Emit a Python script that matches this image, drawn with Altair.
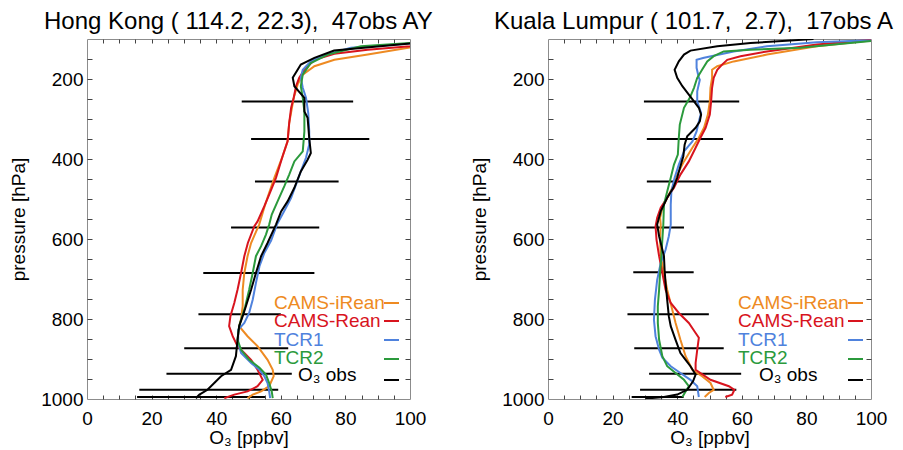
import altair as alt
import pandas as pd

FONT = "Liberation Sans"
W, H = 323, 360
TICK = "#444444"
NB = "\u00a0"

MODELS = ["CAMS-iRean", "CAMS-Rean", "TCR1", "TCR2", "O₃ obs"]
COLORS = ["#EE8A22", "#D8141E", "#4F82DD", "#2B9A3C", "#000000"]

# ---------------- Hong Kong ----------------
hk_title = "Hong Kong ( 114.2, 22.3)," + NB + " 47obs AY"

hk_irean_p = [100, 121, 139, 152, 168, 189, 214, 247, 310, 356, 392, 447, 489, 518, 564, 610, 643, 685, 727, 768, 800, 818, 843, 868, 902, 927, 943, 968, 981, 989, 998]
hk_irean_v = [108, 100, 86.9, 76.6, 70.4, 66.8, 65.2, 64.0, 62.6, 62.1, 60.6, 58.0, 56.2, 55.0, 53.3, 50.8, 49.7, 48.7, 48.2, 48.2, 47.7, 47.1, 49.7, 52.8, 55.9, 57.5, 57.8, 56.4, 53.9, 51.3, 49.7]

hk_rean_p = [100, 118, 127, 137, 152, 177, 197, 218, 247, 272, 310, 356, 392, 447, 489, 518, 556, 568, 610, 643, 685, 727, 760, 793, 818, 843, 868, 885, 902, 927, 952, 968, 981, 989, 998]
hk_rean_v = [112, 100, 86.9, 76.6, 70.4, 67.3, 65.7, 64.7, 64.0, 63.2, 62.6, 62.1, 60.6, 58.5, 56.4, 54.9, 52.8, 51.8, 49.8, 48.7, 47.7, 46.6, 45.6, 44.4, 44.0, 45.1, 46.6, 48.7, 50.8, 52.8, 54.4, 52.8, 49.7, 45.6, 42.5]

hk_tcr1_p = [100, 111, 122, 143, 156, 177, 197, 222, 247, 285, 331, 364, 397, 431, 464, 497, 522, 564, 604, 635, 668, 710, 752, 785, 810, 827, 860, 885, 910, 927, 943, 960, 981, 998]
hk_tcr1_v = [120, 100, 81.7, 72.4, 69.3, 66.8, 66.2, 66.8, 67.8, 68.5, 68.8, 68.8, 67.8, 66.2, 64.7, 63.2, 61.6, 58.8, 57.0, 54.9, 53.4, 52.3, 51.3, 50.2, 48.7, 46.8, 46.8, 47.7, 50.8, 53.4, 54.9, 55.9, 56.4, 56.7]

hk_tcr2_p = [100, 110, 118, 139, 160, 189, 218, 247, 281, 331, 381, 406, 439, 468, 506, 539, 564, 589, 618, 643, 685, 727, 768, 797, 818, 852, 877, 902, 922, 939, 960, 981, 998]
hk_tcr2_v = [118, 100, 84.8, 74.5, 69.3, 66.8, 66.2, 66.8, 67.3, 67.3, 66.8, 64.2, 62.6, 61.1, 59.0, 57.2, 56.4, 55.4, 53.9, 52.3, 51.3, 50.2, 49.0, 47.9, 47.1, 46.6, 47.7, 50.2, 53.4, 55.4, 56.4, 57.2, 57.5]

hk_obs_p = [100, 111, 129, 147, 164, 197, 218, 247, 281, 297, 347, 385, 402, 431, 472, 506, 531, 564, 610, 643, 685, 727, 768, 793, 818, 852, 893, 927, 943, 960, 977, 989, 998]
hk_obs_v = [115, 100, 76.5, 70.4, 66.2, 63.7, 64.2, 67.3, 67.3, 68.3, 68.8, 69.3, 68.3, 66.2, 64.2, 62.1, 60.1, 58.5, 55.9, 53.9, 52.3, 50.8, 49.2, 48.2, 47.1, 46.6, 46.1, 44.6, 41.5, 39.4, 37.3, 34.8, 33.7]

hk_bar_p = [256, 350, 456, 571, 685, 788, 873, 937, 977, 995]
hk_bar_lo = [47.9, 50.8, 52.0, 44.6, 36.0, 34.5, 30.1, 24.6, 16.2, 15.5]
hk_bar_hi = [82.4, 87.4, 77.9, 71.9, 70.4, 60.0, 62.3, 63.4, 59.2, 55.1]

# ---------------- Kuala Lumpur ----------------
kl_title = "Kuala Lumpur ( 101.7," + NB + " 2.7)," + NB + " 17obs AY"

kl_irean_p = [100, 104, 118, 139, 156, 168, 177, 197, 222, 256, 289, 322, 347, 372, 406, 439, 472, 497, 522, 547, 564, 602, 643, 685, 727, 768, 810, 852, 893, 927, 943, 960, 977, 985, 995]
kl_irean_v = [104, 100, 83.2, 67.8, 57.5, 52.4, 50.8, 50.8, 50.3, 50.1, 49.5, 48.3, 46.7, 44.7, 42.1, 40.0, 38.5, 36.9, 35.4, 34.7, 34.9, 34.7, 34.9, 35.9, 36.9, 38.2, 39.5, 41.0, 42.6, 44.7, 47.7, 50.3, 51.3, 49.8, 48.5]

kl_rean_p = [100, 102, 114, 131, 143, 152, 164, 177, 197, 222, 256, 289, 322, 347, 372, 406, 439, 472, 497, 522, 547, 568, 602, 643, 685, 727, 760, 785, 810, 835, 847, 877, 910, 927, 952, 968, 977, 989, 995]
kl_rean_v = [103, 100, 83.2, 67.8, 59.6, 55.5, 53.9, 52.4, 51.3, 50.8, 50.5, 50.1, 48.8, 47.2, 45.7, 43.6, 41.0, 39.0, 36.9, 34.9, 33.8, 33.3, 33.6, 34.4, 35.4, 36.4, 38.0, 40.5, 43.6, 45.7, 46.7, 46.2, 45.7, 45.7, 50.3, 56.0, 57.7, 57.0, 54.9]

kl_tcr1_p = [100, 103, 108, 118, 131, 147, 152, 172, 197, 202, 231, 256, 285, 306, 331, 356, 381, 414, 447, 481, 514, 564, 593, 627, 660, 702, 752, 802, 843, 877, 897, 918, 935, 952, 968, 995]
kl_tcr1_v = [106, 100, 83.2, 67.8, 57.5, 48.3, 46.0, 46.0, 46.7, 47.0, 46.2, 46.2, 47.4, 46.7, 46.0, 44.7, 42.1, 40.5, 39.2, 38.2, 38.0, 38.0, 37.4, 36.4, 34.9, 33.8, 33.1, 32.8, 33.3, 34.4, 35.4, 38.0, 41.0, 44.1, 46.2, 46.7]

kl_tcr2_p = [100, 105, 122, 127, 131, 143, 156, 177, 197, 222, 247, 272, 314, 347, 389, 414, 447, 481, 514, 564, 602, 643, 685, 727, 768, 810, 852, 893, 918, 935, 952, 968, 981, 995]
kl_tcr2_v = [108, 100, 78.1, 62.7, 54.4, 51.3, 49.3, 47.7, 46.2, 45.2, 43.9, 42.1, 40.8, 40.5, 40.2, 39.0, 38.0, 36.9, 35.9, 35.7, 35.4, 35.1, 34.7, 34.4, 34.0, 34.0, 34.4, 35.4, 36.9, 39.5, 42.1, 43.6, 42.6, 41.6]

kl_obs_p = [100, 104, 110, 118, 129, 139, 156, 177, 197, 218, 239, 256, 272, 289, 306, 322, 343, 364, 393, 418, 447, 472, 497, 531, 564, 593, 643, 677, 710, 752, 793, 818, 852, 885, 902, 918, 939, 956, 977, 989, 995, 999]
kl_obs_v = [82.2, 75.0, 62.7, 52.4, 44.1, 42.1, 40.5, 39.2, 40.0, 41.6, 43.6, 45.2, 46.7, 47.4, 47.0, 45.7, 43.1, 42.3, 41.9, 41.0, 40.0, 38.8, 36.9, 34.9, 33.8, 34.4, 35.9, 36.1, 36.4, 36.9, 37.4, 38.0, 39.5, 41.0, 42.6, 44.1, 45.7, 44.9, 43.1, 40.0, 35.9, 30.2]

kl_bar_p = [256, 350, 456, 571, 683, 788, 873, 937, 977, 995]
kl_bar_lo = [29.7, 30.6, 30.6, 24.3, 26.4, 24.6, 26.7, 31.3, 28.5, 25.9]
kl_bar_hi = [59.2, 54.2, 50.5, 42.1, 45.1, 49.8, 54.4, 59.8, 58.3, 42.0]

X_LABELS = [0, 20, 40, 60, 80, 100]
Y_LABELS = [200, 400, 600, 800, 1000]
X_TICKS = list(range(5, 100, 5))
Y_TICKS = list(range(150, 1000, 50))

xs = alt.Scale(domain=[0, 100], nice=False, zero=False)
ys = alt.Scale(domain=[100, 1000], reverse=True, nice=False, zero=False)

ONE = pd.DataFrame({"a": [0]})

AXIS_TXT = dict(labelFont=FONT, titleFont=FONT, labelFontSize=19, titleFontSize=19,
                labelColor="black", titleColor="black", titleFontWeight="normal")


def series_df(series):
    rows = []
    for name, (p, v) in zip(MODELS, series):
        for i, (pp, vv) in enumerate(zip(p, v)):
            rows.append({"model": name, "p": pp, "v": vv, "i": i})
    return pd.DataFrame(rows)


def tick_layer(df, xorient, yorient):
    return alt.Chart(df).mark_point(opacity=0, clip=True).encode(
        x=alt.X("v:Q", scale=xs, axis=alt.Axis(orient=xorient, offset=-H, values=X_TICKS,
                                                labels=False, domain=False, grid=False,
                                                ticks=True, tickSize=4, tickColor=TICK, title=None)),
        y=alt.Y("p:Q", scale=ys, axis=alt.Axis(orient=yorient, offset=-W, values=Y_TICKS,
                                                labels=False, domain=False, grid=False,
                                                ticks=True, tickSize=5, tickColor=TICK, title=None)),
    )


def panel(title, title_dx, title_limit, series, bar_p, bar_lo, bar_hi, text_x, obs_x, seg_x0, seg_x1):
    df = series_df(series)
    bars = pd.DataFrame({"p": bar_p, "lo": bar_lo, "hi": bar_hi})

    lines = alt.Chart(df).mark_line(clip=True, strokeWidth=2).encode(
        x=alt.X("v:Q", scale=xs, axis=alt.Axis(orient="bottom", values=X_LABELS, ticks=False, tickSize=0,
                                                domain=False, grid=False, labelPadding=10, format="d",
                                                labelFlush=False,
                                                title="O₃ [ppbv]", titlePadding=0, **AXIS_TXT)),
        y=alt.Y("p:Q", scale=ys, axis=alt.Axis(orient="left", values=Y_LABELS, ticks=False, tickSize=0,
                                                domain=False, grid=False, labelPadding=4, format="d",
                                                title="pressure [hPa]", titlePadding=11,
                                                minExtent=48, maxExtent=48, **AXIS_TXT)),
        color=alt.Color("model:N", scale=alt.Scale(domain=MODELS, range=COLORS), legend=None),
        order=alt.Order("i:Q"),
    )

    errbars = alt.Chart(bars).mark_rule(color="black", strokeWidth=2).encode(
        x=alt.X("lo:Q", scale=xs, axis=None),
        x2="hi:Q",
        y=alt.Y("p:Q", scale=ys, axis=None),
    )

    title_mark = alt.Chart(ONE).mark_text(align="left", baseline="alphabetic", font=FONT, fontSize=24,
                                          color="black", limit=title_limit, ellipsis="\u200b").encode(
        x=alt.value(title_dx), y=alt.value(-10), text=alt.value(title))

    layers = [errbars, lines, tick_layer(df, "top", "right"), tick_layer(df, "bottom", "left"), title_mark]

    text_y = [264, 282, 301, 319, 336]
    seg_y = [264, 282, 301, 320, 341]
    for k, (name, col) in enumerate(zip(MODELS, COLORS)):
        tx = obs_x if k == 4 else text_x
        layers.append(alt.Chart(ONE).mark_text(align="left", baseline="middle", font=FONT,
                                               fontSize=19, color=col).encode(
            x=alt.value(tx), y=alt.value(text_y[k]), text=alt.value(name)))
        layers.append(alt.Chart(ONE).mark_rule(color=col, strokeWidth=2).encode(
            x=alt.value(seg_x0), x2=alt.value(seg_x1), y=alt.value(seg_y[k])))

    return alt.layer(*layers).resolve_axis(x="independent", y="independent").properties(
        width=W, height=H)


left = panel(hk_title, -43, 420,
             [(hk_irean_p, hk_irean_v), (hk_rean_p, hk_rean_v), (hk_tcr1_p, hk_tcr1_v),
              (hk_tcr2_p, hk_tcr2_v), (hk_obs_p, hk_obs_v)],
             hk_bar_p, hk_bar_lo, hk_bar_hi, 187, 211, 297, 312)

right = panel(kl_title, -54, 403,
              [(kl_irean_p, kl_irean_v), (kl_rean_p, kl_rean_v), (kl_tcr1_p, kl_tcr1_v),
               (kl_tcr2_p, kl_tcr2_v), (kl_obs_p, kl_obs_v)],
              kl_bar_p, kl_bar_lo, kl_bar_hi, 190, 211, 300, 315)

chart = alt.hconcat(left, right, spacing=138, bounds="flush").properties(
    padding={"left": 0, "top": 1, "right": 0, "bottom": 0},
    background="white",
).configure_view(stroke="#8c8c8c", strokeWidth=1)

chart.save("out.html", embed_options={"renderer": "svg", "actions": False})
